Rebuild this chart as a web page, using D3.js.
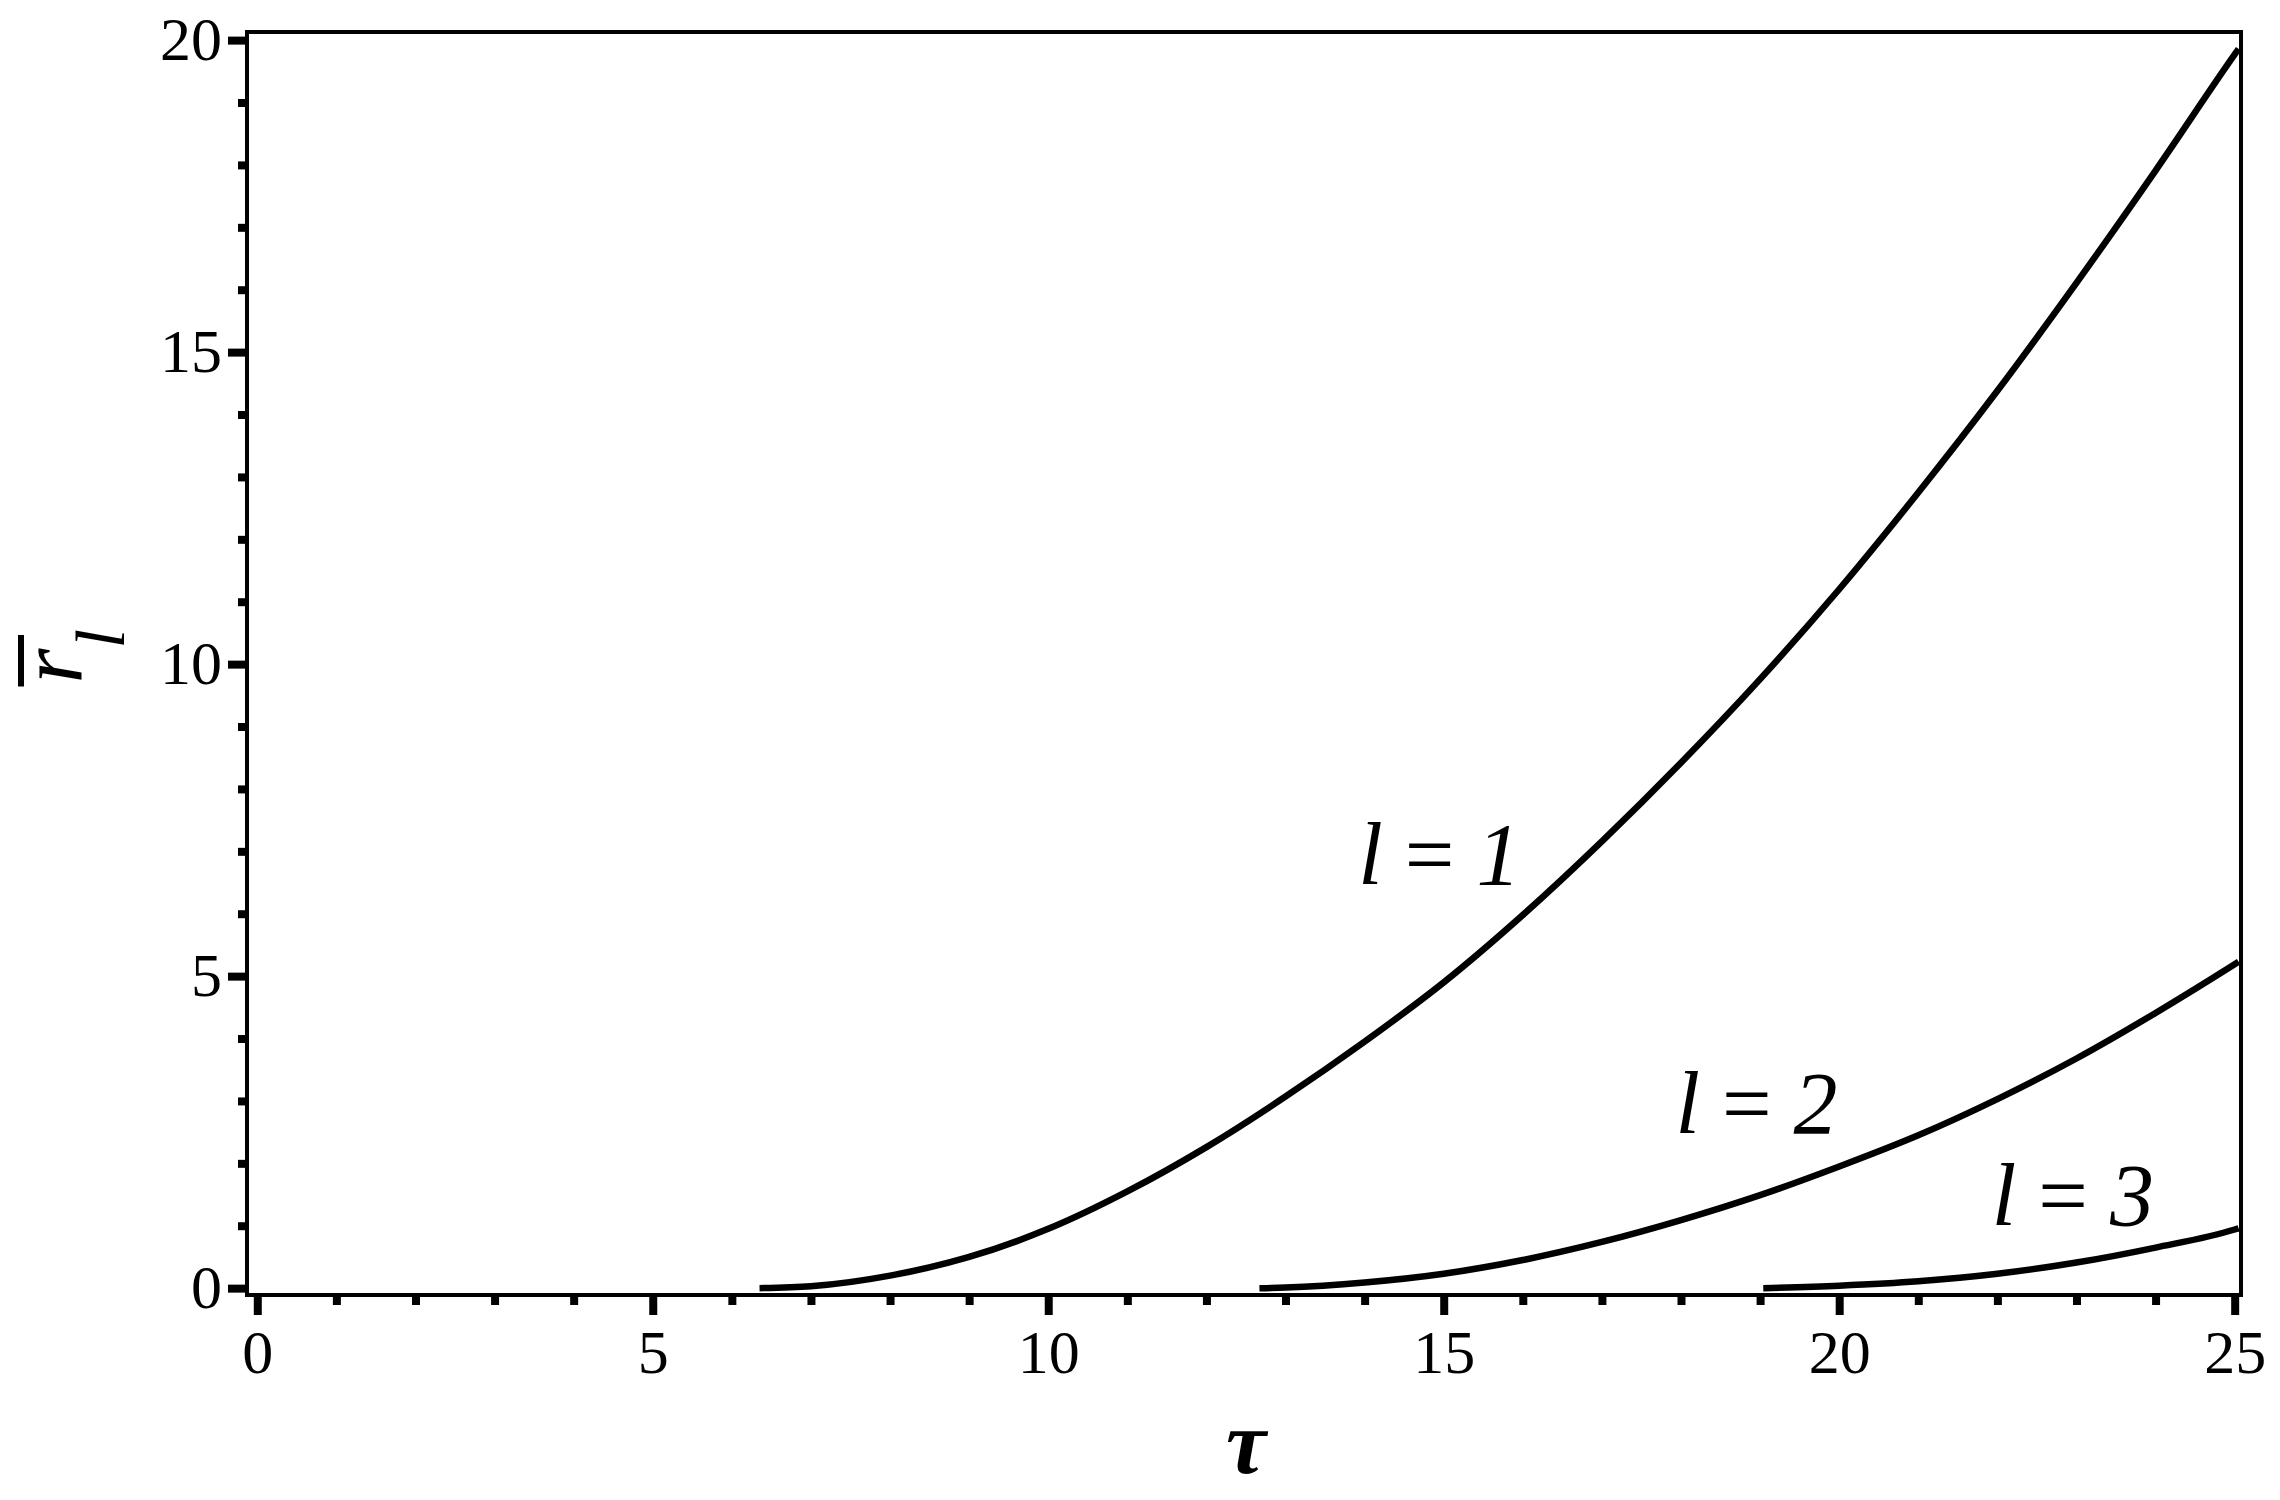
<!DOCTYPE html>
<html>
<head>
<meta charset="utf-8">
<script src="https://cdn.jsdelivr.net/npm/d3@7"></script>
<style>
  body { margin: 0; background: #fff; }
  text { font-family: "Liberation Serif", "Times New Roman", serif; fill: #000; }
</style>
</head>
<body>
<div id="chart"></div>
<script>
var w = 2280;
var h = 1500;

// curves (tau, r_l)
var tau1 = [6.35, 7, 8, 9, 10, 11, 12, 13, 14, 15, 16, 17, 18, 19, 20, 21, 22, 23, 24, 25, 25.05];
var r1   = [0, 0.03, 0.2, 0.5, 0.95, 1.55, 2.26, 3.07, 3.95, 4.9, 5.98, 7.16, 8.42, 9.76, 11.2, 12.75, 14.38, 16.11, 17.91, 19.77, 19.86];

var tau2 = [12.67, 13, 14, 15, 16, 17, 18, 19, 20, 21, 22, 23, 24, 25, 25.05];
var r2   = [0, 0.01, 0.09, 0.23, 0.45, 0.74, 1.09, 1.49, 1.95, 2.45, 3.03, 3.68, 4.41, 5.19, 5.23];

var tau3 = [19.04, 20, 21, 22, 23, 24, 25, 25.05];
var r3   = [0, 0.04, 0.11, 0.23, 0.41, 0.65, 0.94, 0.96];

// curve labels: text and where they sit (tau, r)
var labelNums = ["1", "2", "3"];
var labelTau  = [13.92, 17.93, 21.93];
var labelR    = [6.47, 2.48, 1.01];

var xMajor = [0, 5, 10, 15, 20, 25];
var yMajor = [0, 5, 10, 15, 20];
var xTickLabels = ["0", "5", "10", "15", "20", "25"];
var yTickLabels = ["0", "5", "10", "15", "20"];
var xMinor = d3.range(0, 26).filter(function (d) { return d % 5 !== 0; });
var yMinor = d3.range(0, 21).filter(function (d) { return d % 5 !== 0; });

var svg = d3.select("#chart")
            .append("svg")
            .attr("width", w)
            .attr("height", h)
            .style("background", "#fff");

var x = d3.scaleLinear().domain([-0.13, 25.08]).range([247, 2241]);
var y = d3.scaleLinear().domain([-0.11, 20.13]).range([1295, 32]);

var tickFont = 62;

// minor ticks first (no labels)
var gxMinor = svg.append("g")
                 .attr("transform", "translate(0," + y.range()[0] + ")")
                 .call(d3.axisBottom(x).tickValues(xMinor).tickSize(10).tickFormat(""));
var gyMinor = svg.append("g")
                 .attr("transform", "translate(" + x.range()[0] + ",0)")
                 .call(d3.axisLeft(y).tickValues(yMinor).tickSize(9).tickFormat(""));

var gx = svg.append("g")
            .attr("transform", "translate(0," + y.range()[0] + ")")
            .call(d3.axisBottom(x)
                    .tickValues(xMajor)
                    .tickSize(20)
                    .tickPadding(14)
                    .tickFormat(function (d, i) { return xTickLabels[i]; }));
var gy = svg.append("g")
            .attr("transform", "translate(" + x.range()[0] + ",0)")
            .call(d3.axisLeft(y)
                    .tickValues(yMajor)
                    .tickSize(19)
                    .tickPadding(6)
                    .tickFormat(function (d, i) { return yTickLabels[i]; }));

[gxMinor, gyMinor, gx, gy].forEach(function (g) {
  g.select(".domain").remove();
  g.selectAll(".tick line").attr("stroke", "#000").attr("stroke-width", 8);
  g.selectAll(".tick text")
   .attr("font-family", "Liberation Serif, Times New Roman, serif")
   .attr("font-size", tickFont)
   .attr("fill", "#000");
});

// frame
svg.append("rect")
   .attr("x", x.range()[0])
   .attr("y", y.range()[1])
   .attr("width", x.range()[1] - x.range()[0])
   .attr("height", y.range()[0] - y.range()[1])
   .attr("fill", "none")
   .attr("stroke", "#000")
   .attr("stroke-width", 4);

// curves
var line = d3.line()
             .x(function (d) { return x(d[0]); })
             .y(function (d) { return y(d[1]); })
             .curve(d3.curveMonotoneX);

[[tau1, r1], [tau2, r2], [tau3, r3]].forEach(function (s) {
  svg.append("path")
     .datum(d3.zip(s[0], s[1]))
     .attr("fill", "none")
     .attr("stroke", "#000")
     .attr("stroke-width", 6.5)
     .attr("d", line);
});

// curve labels  l = n
labelNums.forEach(function (n, i) {
  var t = svg.append("text")
             .attr("x", x(labelTau[i]))
             .attr("y", y(labelR[i]))
             .attr("font-size", 88);
  t.append("tspan").attr("font-style", "italic").text("l");
  t.append("tspan").text(" = ");
  t.append("tspan").attr("font-style", "italic").text(n);
});

// x title
svg.append("text")
   .attr("x", (x(0) + x(25)) / 2)
   .attr("y", 1473)
   .attr("text-anchor", "middle")
   .attr("font-size", 90)
   .attr("font-style", "italic")
   .attr("font-weight", "bold")
   .text("τ");

// y title: r with overline, subscript l, rotated
var yMid = (y.range()[0] + y.range()[1]) / 2;
var gl = svg.append("g")
            .attr("transform", "translate(81," + (yMid + 20) + ") rotate(-90)");
var yt = gl.append("text").attr("font-style", "italic");
yt.append("tspan").attr("font-size", 90).text("r");
yt.append("tspan").attr("font-size", 70).attr("dy", 43).text("l");
var bb = yt.node().getBBox();
gl.append("line")
  .attr("x1", bb.x - 3)
  .attr("x2", bb.x + bb.width - 6)
  .attr("y1", -60)
  .attr("y2", -60)
  .attr("stroke", "#000")
  .attr("stroke-width", 6);
</script>
</body>
</html>
